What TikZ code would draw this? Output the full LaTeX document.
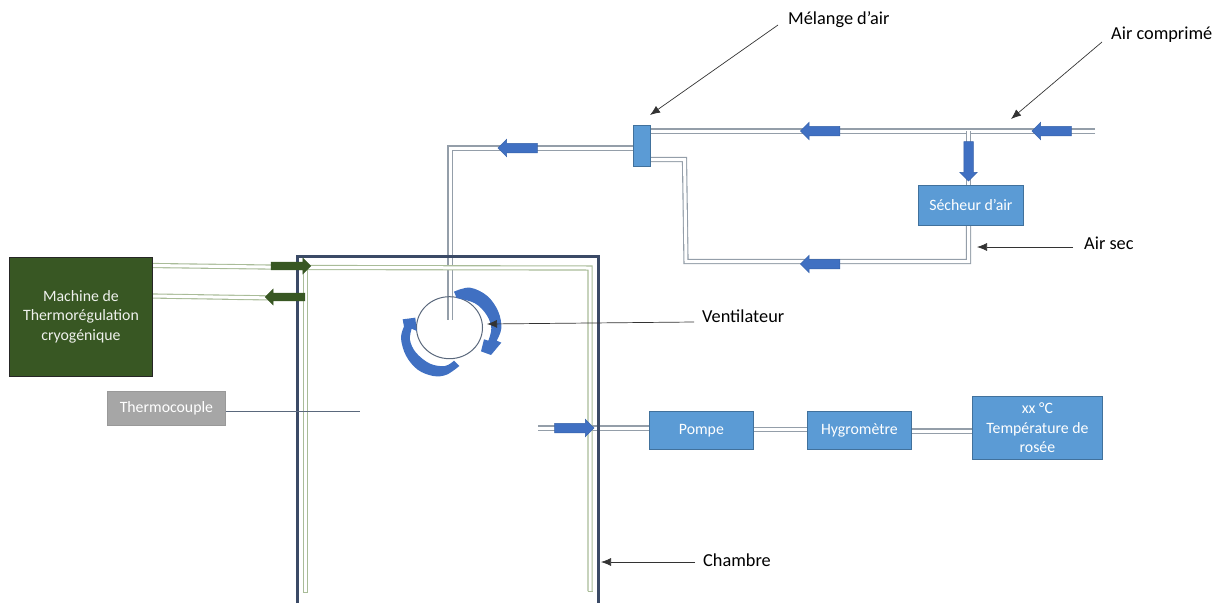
\documentclass[tikz,border=0pt]{standalone}
\usepackage{fontspec}
\setmainfont{Carlito}
\usetikzlibrary{shapes.arrows,shapes.geometric,arrows.meta,backgrounds}
\definecolor{bluebox}{HTML}{5B9BD5}
\definecolor{blueedge}{HTML}{41719C}
\definecolor{bluearrow}{HTML}{4070C2}
\definecolor{arrowedge}{HTML}{3560A8}
\definecolor{darkgreen}{HTML}{385723}
\definecolor{chamberc}{HTML}{3B4A66}
\definecolor{slate}{HTML}{5A687C}
\definecolor{pipec}{HTML}{949EA9}
\definecolor{greenpipe}{HTML}{A9BC98}
\tikzset{
  x=1pt,y=-1pt,
  every node/.style={font=\fontsize{15.8}{19.3}\selectfont,inner sep=0pt,align=center},
  bluenode/.style={draw=blueedge,line width=0.8pt,fill=bluebox,text=white,anchor=north west},
  pipe/.style={draw=pipec,line width=1.1pt,double=white,double distance=3pt},
  gpipe/.style={draw=greenpipe,line width=1.1pt,double=white,double distance=3pt},
  bluearrowshape/.style={single arrow,fill=bluearrow,draw=arrowedge,line width=0.5pt,minimum height=39.5pt,single arrow head extend=4pt,inner sep=4.5pt},
  greenarrowshape/.style={bluearrowshape,fill=darkgreen,draw=darkgreen,inner sep=3.7pt},
  leader/.style={draw=black!80,line width=0.7pt,-{Latex[length=10pt,width=8pt]}},
  lbl/.style={text=black,font=\fontsize{18.3}{22}\selectfont}
}
\begin{document}
\begin{tikzpicture}
\useasboundingbox (0,0) rectangle (1220,603);
% boxes
\node[bluenode,minimum width=17pt,minimum height=41pt] (mix) at (633,125) {};
\node[bluenode,minimum width=105pt,minimum height=40pt] (dry) at (918,185) {Sécheur d’air};
\node[bluenode,minimum width=104pt,minimum height=38pt] (pump) at (649,411) {Pompe};
\node[bluenode,minimum width=104pt,minimum height=38pt] (hyg) at (807,411) {Hygromètre};
\node[bluenode,minimum width=130pt,minimum height=63pt] (dew) at (972,396) {xx °C\\Température de\\rosée};
\node[draw=black!85,line width=0.9pt,fill=darkgreen,text=white!92!darkgreen,anchor=north west,minimum width=143pt,minimum height=119pt] (mach) at (9,257) {\raisebox{-1pt}{\begin{tabular}{@{}c@{}}Machine de\\Thermorégulation\\cryogénique\end{tabular}}};
\node[draw=black!40,line width=0.8pt,fill=black!35,text=white,anchor=north west,minimum width=118pt,minimum height=34pt] (tc) at (107,391) {Thermocouple};
% coordinates
\coordinate (inR) at (1095,131);
\coordinate (tee) at (968.5,131);
\coordinate (mixL) at (634,148);
\coordinate (duct) at (450,148);
\coordinate (ductEnd) at (450,319.5);
\coordinate (lowA) at (650,159.5);
\coordinate (lowB) at (684.5,159.5);
\coordinate (lowC) at (686,261.5);
\coordinate (lowD) at (968.5,261.5);
\coordinate (sampleL) at (538,428);
\coordinate (g1a) at (152,265.5);
\coordinate (g1b) at (304,267.5);
\coordinate (g1c) at (590,268);
\coordinate (g1d) at (590,591);
\coordinate (g2a) at (152,296);
\coordinate (g2b) at (305.5,298.5);
\coordinate (g3a) at (305.5,268);
\coordinate (g3b) at (305.5,592);
\coordinate (tcEnd) at (360,411);
\begin{scope}[on background layer]
% pipes
\draw[pipe] (inR) -- (mix.east |- inR);
\draw[pipe] (tee) -- (dry.north -| tee);
\draw[pipe] (mixL) -- (duct) -- (ductEnd);
\draw[pipe] (lowA) -- (lowB) -- (lowC) -- (lowD) -- (dry.south -| lowD);
\draw[pipe] (sampleL) -- (pump.west |- sampleL);
\draw[pipe] (pump.east |- 0,429.5) -- (hyg.west |- 0,429.5);
\draw[pipe] (hyg.east |- 0,431) -- (dew.west |- 0,431);
% green pipes
\draw[gpipe] (g1a) -- (g1b) -- (g1c) -- (g1d);
\draw[gpipe] (g2a) -- (g2b);
\draw[gpipe] (g3a) -- (g3b);
\draw[draw=greenpipe,line width=1pt] (587.5,591.5) -- (592.5,591.5);
\draw[draw=greenpipe,line width=1pt] (303,592.5) -- (308,592.5);
\end{scope}
% chamber
\draw[chamberc,line width=3pt] (297.5,603) -- (297.5,256.5) -- (598.5,256.5) -- (598.5,603);
% thermocouple line
\draw[slate,line width=1pt] (tc.east |- tcEnd) -- (tcEnd);
% fan
\node[draw=slate,line width=1pt,ellipse,minimum width=66pt,minimum height=62pt,fill=none] (fan) at (449.5,327.7) {};
\draw[pipe] (450,300) -- (ductEnd);
\begin{scope}[shift={(380,270)},x=0.3333pt,y=-0.3333pt]
\fill[bluearrow] plot[smooth,tension=0.6] coordinates {(222,65)(270,53)(322,78)(355,125)(364,175)(350,212)}
 -- (364,218) -- (333,255) -- (303,244) -- (312,208) -- (325,212)
 -- plot[smooth,tension=0.6] coordinates {(325,212)(334,175)(320,135)(285,100)(230,84)} -- cycle;
\fill[bluearrow] plot[smooth,tension=0.6] coordinates {(238,288)(200,314)(160,318)(113,299)(78,257)(63,205)(72,170)}
 -- (68,148) -- (106,143) -- (110,183) -- (95,176)
 -- plot[smooth,tension=0.6] coordinates {(95,176)(90,210)(108,248)(150,281)(195,288)(222,272)} -- cycle;
\end{scope}
% block arrows
\node[bluearrowshape,shape border rotate=180] (a1) at (1054,131) {};
\node[bluearrowshape,shape border rotate=180] (a2) at (822.5,131) {};
\node[bluearrowshape,shape border rotate=180] (a3) at (520,148) {};
\node[bluearrowshape,shape border rotate=180] (a4) at (822.5,264) {};
\node[bluearrowshape,shape border rotate=270] (a5) at (968.5,159) {};
\node[bluearrowshape] (a6) at (572,428) {};
\node[greenarrowshape] (a7) at (289,266) {};
\node[greenarrowshape,shape border rotate=180] (a8) at (287,297) {};
% labels
\node[lbl,anchor=west] (lmix) at (788,20) {Mélange d’air};
\node[lbl,anchor=west] (lair) at (1111,35) {Air comprimé};
\node[lbl,anchor=west] (lsec) at (1084,243) {Air sec};
\node[lbl,anchor=west] (lven) at (702,316) {Ventilateur};
\node[lbl,anchor=west] (lcha) at (703,560) {Chambre};
\coordinate (pmix) at (650,115);
\coordinate (pair) at (1011,119);
\coordinate (psec) at (977,247);
\coordinate (pven) at (487,324);
\coordinate (pcha) at (601,562);
\coordinate (smix) at (778,25);
\coordinate (sair) at (1102,42);
\coordinate (ssec) at (1073,247);
\coordinate (sven) at (694,322);
\coordinate (scha) at (695,562);
\draw[leader] (smix) -- (pmix);
\draw[leader] (sair) -- (pair);
\draw[leader] (ssec) -- (psec);
\draw[leader] (sven) -- (pven);
\draw[leader] (scha) -- (pcha);
\end{tikzpicture}
\end{document}
